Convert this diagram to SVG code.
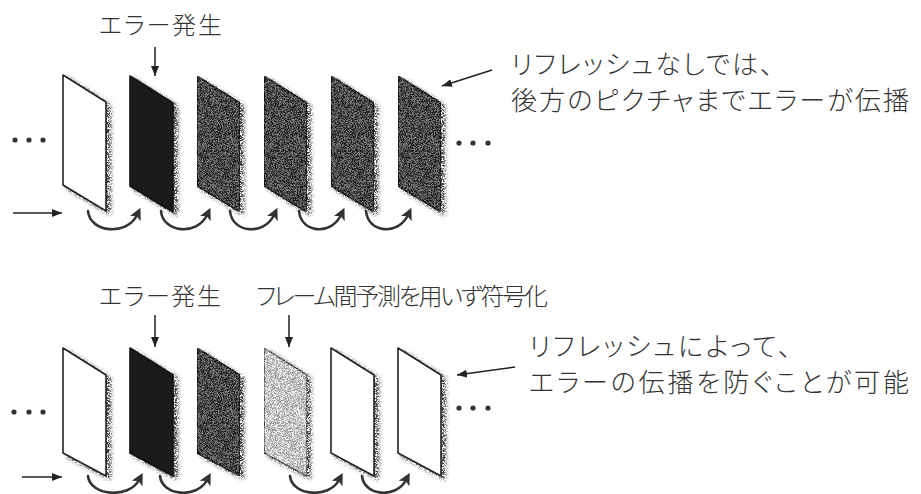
<svg xmlns="http://www.w3.org/2000/svg" xmlns:xlink="http://www.w3.org/1999/xlink" width="921" height="494" viewBox="0 0 921 494">
  <style>
    text { font-family: "Noto Sans CJK JP", "Noto Sans CJK SC", sans-serif; font-weight: 300; fill: #333; font-feature-settings: "palt" 1; }
    .lbl { font-size: 24px; }
    .note { font-size: 26px; }
    .white { fill: #ffffff; stroke: #222; stroke-width: 1.6; stroke-linejoin: round; }
    .black { fill: #1b1b1b; stroke: #111; stroke-width: 1.6; stroke-linejoin: round; }
    .dark { fill: #4a4a4a; stroke: #222; stroke-width: 1.8; stroke-linejoin: round; }
    .light { fill: #c6c6c6; stroke: #555; stroke-width: 1.4; stroke-linejoin: round; }
    .arr { fill: none; stroke: #222; stroke-width: 1.5; marker-end: url(#tip); }
    .hook { fill: none; stroke: #333; stroke-width: 2.6; stroke-linecap: round; marker-end: url(#hookhead); }
    .dot { fill: #333; }
  </style>
  <defs>
    <!-- one picture, seen at an angle -->
    <path id="frame" d="M0,0 L43,27 L43,136 L0,110 Z"/>
    <path id="frame-low" d="M0,0 L43,27 L43,128 L0,105 Z"/>
    <marker id="tip" viewBox="0 0 10 8" refX="10" refY="4" markerWidth="10" markerHeight="8" markerUnits="userSpaceOnUse" orient="auto">
      <path d="M0,0 L10,4 L0,8 Z" fill="#222"/>
    </marker>
    <marker id="hookhead" viewBox="0 0 12 12" refX="4" refY="6" markerWidth="12" markerHeight="12" markerUnits="userSpaceOnUse" orient="auto">
      <path d="M0,0 L12,6 L0,12 L3,6 Z" fill="#333"/>
    </marker>
    <!-- stippled drop shadow -->
    <filter id="shadow" x="-0.2" y="-0.1" width="1.5" height="1.3" color-interpolation-filters="sRGB">
      <feOffset in="SourceAlpha" dx="4" dy="3" result="off"/>
      <feGaussianBlur in="off" stdDeviation="2" result="blur"/>
      <feTurbulence type="fractalNoise" baseFrequency="1.6" numOctaves="1" seed="7" result="noise"/>
      <feColorMatrix in="noise" type="matrix" values="0 0 0 0 0  0 0 0 0 0  0 0 0 0 0  5 0 0 0 -2" result="mask"/>
      <feComposite in="blur" in2="mask" operator="arithmetic" k1="1.3" result="spots"/>
      <feFlood flood-color="#3a3a3a"/>
      <feComposite in2="spots" operator="in" result="sh"/>
      <feMerge>
        <feMergeNode in="sh"/>
        <feMergeNode in="SourceGraphic"/>
      </feMerge>
    </filter>
    <!-- grainy halftone fill -->
    <filter id="grain" x="0" y="0" width="1" height="1" color-interpolation-filters="sRGB">
      <feTurbulence type="fractalNoise" baseFrequency="1.7" numOctaves="1" seed="3" result="noise"/>
      <feColorMatrix in="noise" type="matrix" values="4 0 0 0 -1.5  4 0 0 0 -1.5  4 0 0 0 -1.5  0 0 0 0 1" result="gray"/>
      <feComposite in="SourceGraphic" in2="gray" operator="arithmetic" k2="1" k3="0.4" k4="-0.2" result="mix"/>
      <feComposite in="mix" in2="SourceAlpha" operator="in"/>
    </filter>
  </defs>

  <!-- ===== upper sequence: no refresh ===== -->
  <g id="top-frames" filter="url(#shadow)">
    <g id="t1"><use xlink:href="#frame" class="white" transform="translate(63,75)"/></g>
    <g id="t2"><use xlink:href="#frame" class="black" transform="translate(130,76)"/></g>
    <g id="t3"><use xlink:href="#frame" class="dark" filter="url(#grain)" transform="translate(197,76)"/></g>
    <g id="t4"><use xlink:href="#frame" class="dark" filter="url(#grain)" transform="translate(264,76)"/></g>
    <g id="t5"><use xlink:href="#frame" class="dark" filter="url(#grain)" transform="translate(331,76)"/></g>
    <g id="t6"><use xlink:href="#frame" class="dark" filter="url(#grain)" transform="translate(398,76)"/></g>
  </g>

  <g id="top-dots">
    <circle class="dot" cx="15" cy="140" r="2.6"/><circle class="dot" cx="29" cy="140" r="2.6"/><circle class="dot" cx="43" cy="140" r="2.6"/>
    <circle class="dot" cx="459" cy="143" r="2.6"/><circle class="dot" cx="473" cy="143" r="2.6"/><circle class="dot" cx="488" cy="143" r="2.6"/>
  </g>

  <g id="top-labels">
    <text class="lbl" x="99" y="34" textLength="123" lengthAdjust="spacing">エラー発生</text>
    <text class="note" x="511" y="74" textLength="262" lengthAdjust="spacing">リフレッシュなしでは、</text>
    <text class="note" x="511" y="110" textLength="398" lengthAdjust="spacing">後方のピクチャまでエラーが伝播</text>
  </g>

  <g id="top-connectors">
    <path class="arr" d="M155,47 L155,76"/>
    <path class="arr" d="M492,70 L442,86"/>
    <path class="arr" d="M13,213 L62,213"/>
    <path class="hook" d="M88,211 C90,233 127,236 137,215"/>
    <path class="hook" d="M161,211 C163,233 197,236 207,215"/>
    <path class="hook" d="M230,211 C232,233 264,236 274,215"/>
    <path class="hook" d="M299,211 C301,233 331,236 341,215"/>
    <path class="hook" d="M366,211 C368,233 398,236 408,215"/>
  </g>

  <!-- ===== lower sequence: intra refresh ===== -->
  <g id="bottom-frames" filter="url(#shadow)">
    <g id="b1"><use xlink:href="#frame-low" class="white" transform="translate(63,348)"/></g>
    <g id="b2"><use xlink:href="#frame-low" class="black" transform="translate(130,348)"/></g>
    <g id="b3"><use xlink:href="#frame-low" class="dark" filter="url(#grain)" transform="translate(197,348)"/></g>
    <g id="b4"><use xlink:href="#frame-low" class="light" filter="url(#grain)" transform="translate(264,348)"/></g>
    <g id="b5"><use xlink:href="#frame-low" class="white" transform="translate(331,348)"/></g>
    <g id="b6"><use xlink:href="#frame-low" class="white" transform="translate(398,348)"/></g>
  </g>

  <g id="bottom-dots">
    <circle class="dot" cx="14" cy="412" r="2.6"/><circle class="dot" cx="29" cy="412" r="2.6"/><circle class="dot" cx="43" cy="412" r="2.6"/>
    <circle class="dot" cx="459" cy="408" r="2.6"/><circle class="dot" cx="473" cy="408" r="2.6"/><circle class="dot" cx="488" cy="408" r="2.6"/>
  </g>

  <g id="bottom-labels">
    <text class="lbl" x="99" y="305" textLength="122" lengthAdjust="spacing">エラー発生</text>
    <text class="lbl" x="256" y="305" textLength="292" lengthAdjust="spacing">フレーム間予測を用いず符号化</text>
    <text class="note" x="529" y="356" textLength="262" lengthAdjust="spacing">リフレッシュによって、</text>
    <text class="note" x="529" y="392" textLength="380" lengthAdjust="spacing">エラーの伝播を防ぐことが可能</text>
  </g>

  <g id="bottom-connectors">
    <path class="arr" d="M155,315 L155,347"/>
    <path class="arr" d="M289,315 L289,347"/>
    <path class="arr" d="M515,367 L457,375"/>
    <path class="arr" d="M22,477 L62,477"/>
    <path class="hook" d="M88,476 C90,496 129,499 139,480"/>
    <path class="hook" d="M160,476 C162,496 197,499 207,480"/>
    <path class="hook" d="M290,476 C292,496 329,499 339,480"/>
    <path class="hook" d="M362,476 C364,496 396,499 406,480"/>
  </g>
</svg>
